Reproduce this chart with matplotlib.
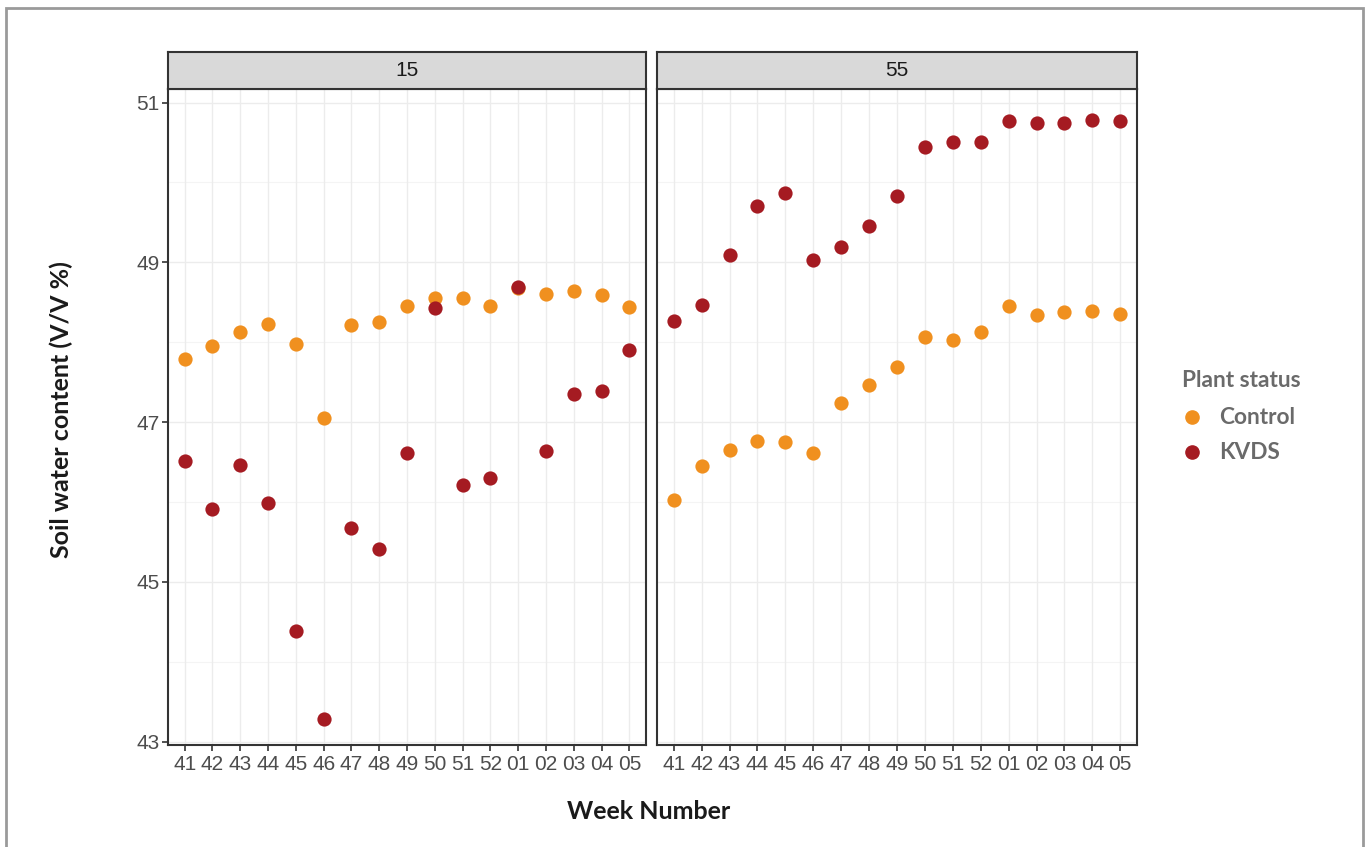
import matplotlib
matplotlib.use("Agg")
import matplotlib.pyplot as plt
from matplotlib.patches import Rectangle
from matplotlib.lines import Line2D

# data
weeks = ["41", "42", "43", "44", "45", "46", "47", "48", "49", "50",
         "51", "52", "01", "02", "03", "04", "05"]
facets = ["15", "55"]

control_15 = [47.79, 47.95, 48.13, 48.23, 47.98, 47.05, 48.22, 48.26, 48.46,
              48.56, 48.55, 48.45, 48.68, 48.61, 48.64, 48.59, 48.44]
kvds_15 = [46.52, 45.91, 46.46, 45.99, 44.39, 43.28, 45.67, 45.41, 46.61,
           48.43, 46.21, 46.30, 48.69, 46.64, 47.35, 47.39, 47.90]

control_55 = [46.02, 46.45, 46.65, 46.76, 46.75, 46.61, 47.24, 47.47, 47.69,
              48.07, 48.03, 48.13, 48.46, 48.34, 48.38, 48.39, 48.36]
kvds_55 = [48.27, 48.47, 49.09, 49.70, 49.87, 49.03, 49.19, 49.45, 49.83,
           50.45, 50.51, 50.51, 50.77, 50.74, 50.74, 50.78, 50.77]

y_ticks = [43, 45, 47, 49, 51]
y_minor = [44, 46, 48, 50]

series_names = ["Control", "KVDS"]
colors = {"Control": "#f0901f", "KVDS": "#a51b22"}

W, H = 1367, 847
fig = plt.figure(figsize=(W / 100, H / 100), dpi=100)
fig.patch.set_facecolor("white")

# outer gray frame of the figure
fig.add_artist(Rectangle((6 / W, -0.05), (1363 - 6) / W, 1.05 - 8 / H,
                         transform=fig.transFigure, fill=False,
                         edgecolor="#9a9a9a", linewidth=2))

bottom = 1 - 745 / H
top = 1 - 89 / H
strip_top = 1 - 52 / H
panels = [(168, 646), (657, 1137)]
data = {"15": (control_15, kvds_15), "55": (control_55, kvds_55)}

x = list(range(len(weeks)))
dark = "#333333"
tick_size = 15

for i, (facet, (x0, x1)) in enumerate(zip(facets, panels)):
    ax = fig.add_axes([x0 / W, bottom, (x1 - x0) / W, top - bottom])
    ax.set_xlim(-0.6, len(weeks) - 0.4)
    ax.set_ylim(42.96, 51.17)

    # gridlines like theme_bw
    for yy in y_minor:
        ax.axhline(yy, color="#f4f4f4", lw=0.8, zorder=0)
    for yy in y_ticks:
        ax.axhline(yy, color="#ececec", lw=1.0, zorder=0)
    for xx in x:
        ax.axvline(xx, color="#ececec", lw=1.0, zorder=0)

    ctrl, kv = data[facet]
    ax.scatter(x, ctrl, s=105, color=colors["Control"], zorder=3, linewidths=0)
    ax.scatter(x, kv, s=105, color=colors["KVDS"], zorder=3, linewidths=0)

    ax.set_xticks(x)
    ax.set_xticklabels(weeks, fontsize=tick_size, color="#4d4d4d",
                       family="Liberation Sans")
    ax.set_yticks(y_ticks)
    if i == 0:
        ax.set_yticklabels([str(v) for v in y_ticks], fontsize=tick_size,
                           color="#4d4d4d", family="Liberation Sans")
        ax.tick_params(axis="y", length=4, width=1.2, color=dark, pad=2)
    else:
        ax.tick_params(axis="y", left=False, labelleft=False)
    ax.tick_params(axis="x", length=4, width=1.2, color=dark, pad=3)
    for sp in ax.spines.values():
        sp.set_color(dark)
        sp.set_linewidth(1.5)

    # facet strip
    sax = fig.add_axes([x0 / W, top, (x1 - x0) / W, strip_top - top])
    sax.set_facecolor("#d9d9d9")
    sax.set_xticks([])
    sax.set_yticks([])
    for sp in sax.spines.values():
        sp.set_color(dark)
        sp.set_linewidth(1.5)
    sax.text(0.5, 0.5, facet, ha="center", va="center", fontsize=tick_size,
             color="#1a1a1a", family="Liberation Sans", transform=sax.transAxes)

# axis titles
fig.text(649 / W, 1 - 811 / H, "Week Number", ha="center", va="center",
         fontsize=18, fontweight="bold", family="Lato", color="#1a1a1a")
fig.text(61 / W, 1 - 410 / H, "Soil water content (V/V %)", ha="center",
         va="center", rotation=90, fontsize=18, fontweight="bold",
         family="Lato", color="#1a1a1a")

# legend
fig.text(1182 / W, 1 - 380 / H, "Plant status", ha="left", va="center",
         fontsize=16.3, fontweight="bold", family="Lato", color="#6a6a6a")
for name, yy in zip(series_names, [417, 452]):
    fig.add_artist(Line2D([1192 / W], [1 - yy / H], marker="o", markersize=9.5,
                          color=colors[name], linestyle="none",
                          transform=fig.transFigure))
    fig.text(1219 / W, 1 - yy / H, name, ha="left", va="center",
             fontsize=16.3, fontweight="bold", family="Lato", color="#6a6a6a")

fig.savefig("out.png", dpi=100)
